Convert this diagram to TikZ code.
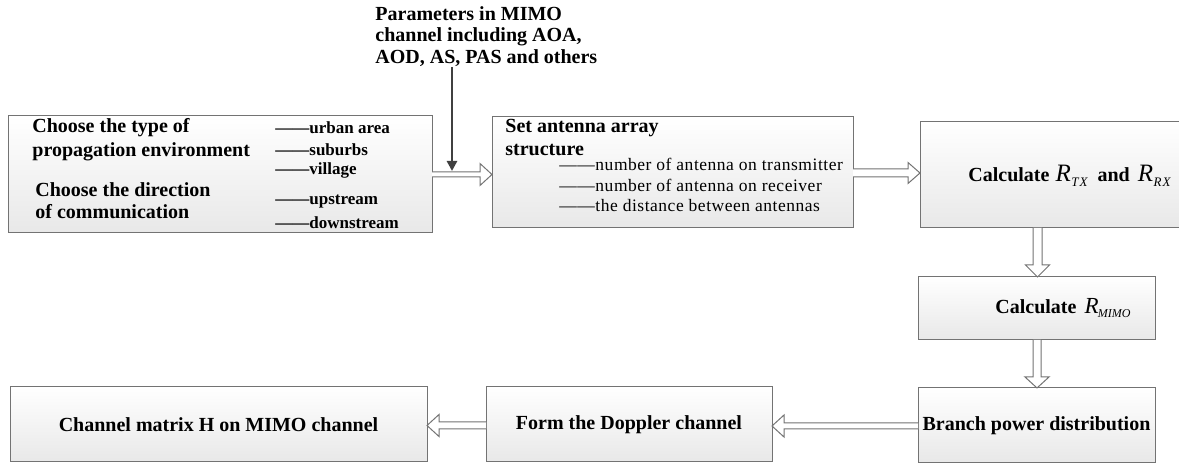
\documentclass[tikz,border=0pt]{standalone}
\usepackage{fontspec}
\setmainfont{Liberation Serif}
\newfontfamily\itemreg[LetterSpace=3]{Liberation Serif}
\newfontfamily\subfont[LetterSpace=8]{Liberation Serif}
\usetikzlibrary{calc,arrows.meta}
\tikzset{
 box/.style={draw=black!55, line width=0.5pt, top color=white, bottom color=black!9, anchor=north west, inner sep=0pt, outer sep=0pt, font=\fontsize{10}{12}\selectfont\bfseries},
 hollow/.style={draw=black!55, line width=0.5pt, fill=white, line join=miter},
 lbl/.style={anchor=west, inner sep=0pt, font=\fontsize{10}{12}\selectfont\bfseries},
 itm/.style={anchor=west, inner sep=0pt, font=\fontsize{8.5}{10}\selectfont\bfseries},
 itmr/.style={anchor=west, inner sep=0pt, font=\itemreg\fontsize{8.75}{10}\selectfont},
 darrow/.style={draw=black!75, line width=1.25pt, -{Triangle[length=5pt,width=5pt]}},
}
\newcommand\hollowarrow[5]{%
  \coordinate (hs) at #1; \coordinate (he) at #2;
  \coordinate (hb) at ($(he)!#5!(hs)$);
  \draw[hollow] ($(hs)!#3!90:(he)$) -- ($(hb)!#3!90:(he)$) -- ($(hb)!#4!90:(he)$) -- (he)
     -- ($(hb)!#4!-90:(he)$) -- ($(hb)!#3!-90:(he)$) -- ($(hs)!#3!-90:(he)$);
}
\newcommand\Rsub[3]{{\fontsize{#1}{#1}\selectfont\mdseries\itshape R}\kern0.3pt\raisebox{-2.5pt}{\subfont\fontsize{#2}{#2}\selectfont\mdseries\itshape #3}}
\newcommand\Rsubn[3]{{\fontsize{#1}{#1}\selectfont\mdseries\itshape R}\kern-0.3pt\raisebox{-2.2pt}{\fontsize{#2}{#2}\selectfont\mdseries\itshape #3}}
\begin{document}
\begin{tikzpicture}[x=0.5pt,y=-0.5pt]
\useasboundingbox (0,0) rectangle (1179,464);
% boxes
\node[box, minimum width=212pt, minimum height=58.5pt] (b1) at (8,116) {};
\node[box, minimum width=180.5pt, minimum height=55.5pt] (b2) at (492,117) {};
\begin{scope}
 \clip (0,0) rectangle (1179,464);
 \node[box, minimum width=140pt, minimum height=53pt] (b3) at (920,122) {};
\end{scope}
\node[lbl] (t3) at (968,176) {Calculate\hspace{3pt}\Rsub{12.5}{6.5}{TX}\hspace{5pt}and\hspace{4pt}\Rsub{12.5}{6.5}{RX}};
\node[box, minimum width=118.5pt, minimum height=31.5pt] (b4) at (918,277) {};
\node[box, minimum width=118.5pt, minimum height=37.5pt] (b5) at (918,388) {Branch power distribution};
\node[box, minimum width=143pt, minimum height=37.5pt] (b7) at (486,387) {Form the Doppler channel};
\node[box, minimum width=208.5pt, minimum height=37.5pt] (b6) at (10,387) {Channel matrix H on MIMO channel};
% box 1 texts
\node[lbl] (t1a) at (32,128) {Choose the type of};
\node[lbl] (t1b) at (32,152) {propagation environment};
\node[lbl] (t1c) at (35,190) {Choose the direction};
\node[lbl] (t1d) at (35,212) {of communication};
\node[itm] (i1) at (275,128) {\textemdash\textemdash urban area};
\node[itm] (i2) at (275,150) {\textemdash\textemdash suburbs};
\node[itm] (i3) at (275,170) {\textemdash\textemdash village};
\node[itm] (i4) at (275,202) {\textemdash\textemdash upstream};
\node[itm] (i5) at (275,223) {\textemdash\textemdash downstream};
% box 2 texts
\node[lbl] (t2a) at (505,128) {Set antenna array};
\node[lbl] (t2b) at (505,150) {structure};
\node[itmr] (j1) at (559,164) {\textemdash\textemdash number of antenna on transmitter};
\node[itmr] (j2) at (559,185) {\textemdash\textemdash number of antenna on receiver};
\node[itmr] (j3) at (559,206) {\textemdash\textemdash the distance between antennas};
% box 4 text
\node[lbl] (t4) at (995,308) {Calculate\hspace{0.4em}\Rsubn{11.5}{6}{MIMO}};
% top text
\node[anchor=west, inner sep=0pt, align=left, font=\fontsize{10}{10.75}\selectfont\bfseries] (params) at (375,36.5) {Parameters in MIMO\\channel including AOA,\\AOD, AS, PAS and others};
% level coordinates
\coordinate (yB) at (0,174.5);
\coordinate (yC) at (0,173);
\coordinate (xD) at (1037.5,0);
\coordinate (xE) at (1037,0);
\coordinate (yF) at (0,426);
\coordinate (yG) at (0,425.5);
% hollow arrows
\hollowarrow{(b1.east|-yB)}{(b2.west|-yB)}{1.25pt}{5.5pt}{6pt}
\hollowarrow{(b2.east|-yC)}{(b3.west|-yC)}{2pt}{5.25pt}{6pt}
\hollowarrow{(b3.south-|xD)}{(b4.north-|xD)}{2.25pt}{6pt}{6pt}
\hollowarrow{(b4.south-|xE)}{(b5.north-|xE)}{2pt}{6pt}{5.5pt}
\hollowarrow{(b5.west|-yF)}{(b7.east|-yF)}{1.5pt}{5.5pt}{6pt}
\hollowarrow{(b7.west|-yG)}{(b6.east|-yG)}{1.75pt}{5.5pt}{6pt}
% dark arrow
\coordinate (pend) at (452,171);
\draw[darrow] (params.south -| pend) -- (pend);
\end{tikzpicture}
\end{document}
